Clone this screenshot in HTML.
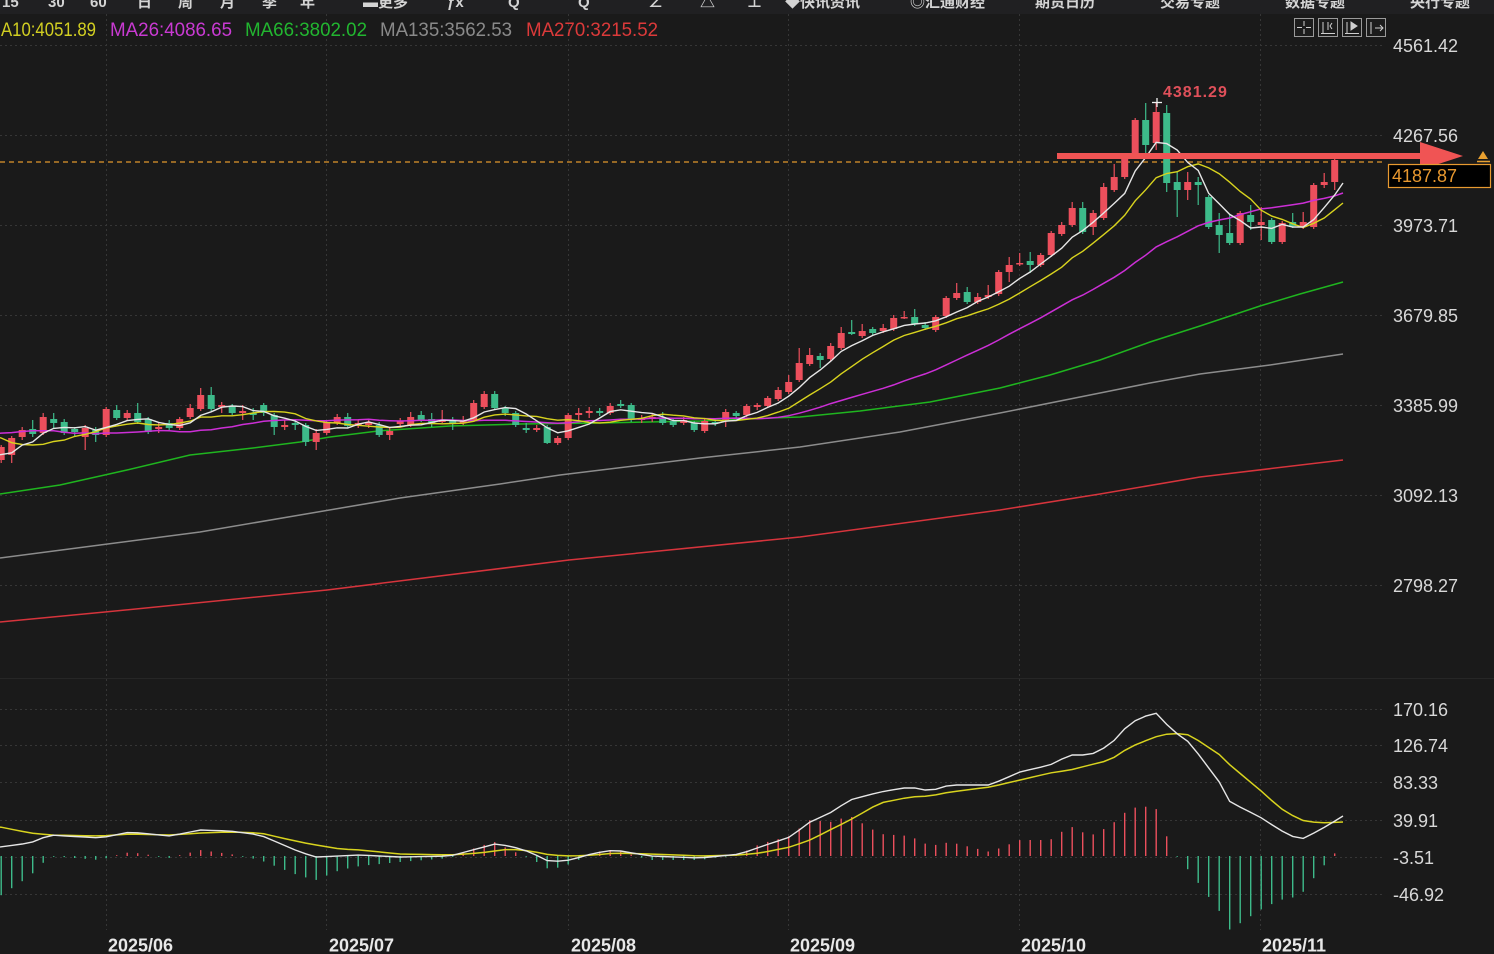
<!DOCTYPE html>
<html><head><meta charset="utf-8">
<style>
html,body{margin:0;padding:0;background:#1a1a1a;}
body{width:1494px;height:954px;overflow:hidden;position:relative;font-family:"Liberation Sans","Noto Sans CJK SC",sans-serif;}
svg{position:absolute;left:0;top:0;}
</style></head><body>
<svg id="c" width="1494" height="954" xmlns="http://www.w3.org/2000/svg">
<rect width="1494" height="954" fill="#1a1a1a"/>
<rect width="1494" height="14" fill="#202022"/>
<g font-family="Liberation Sans, Noto Sans CJK SC, sans-serif" font-size="15" fill="#d4d4d4" font-weight="bold">
<text x="2" y="7">15</text><text x="48" y="7">30</text><text x="90" y="7">60</text>
<text x="137" y="7">日</text><text x="178" y="7">周</text><text x="220" y="7">月</text><text x="262" y="7">季</text><text x="300" y="7">年</text>
<text x="363" y="7">▬更多</text><text x="447" y="7">ƒx</text><text x="508" y="7">Q</text><text x="578" y="7">Q</text>
<text x="648" y="7">∠</text><text x="700" y="7">△</text><text x="747" y="7">⊥</text>
<text x="785" y="7">◆快讯资讯</text><text x="910" y="7">◎汇通财经</text><text x="1035" y="7">期货日历</text>
<text x="1160" y="7">交易专题</text><text x="1285" y="7">数据专题</text><text x="1410" y="7">央行专题</text>
</g>
<g id="grid" stroke="#363636" stroke-width="1" stroke-dasharray="2,3" fill="none">
<line x1="0" y1="45.5" x2="1385" y2="45.5"/><line x1="0" y1="135.5" x2="1385" y2="135.5"/>
<line x1="0" y1="225.5" x2="1385" y2="225.5"/><line x1="0" y1="315.5" x2="1385" y2="315.5"/>
<line x1="0" y1="405.5" x2="1385" y2="405.5"/><line x1="0" y1="495.5" x2="1385" y2="495.5"/>
<line x1="0" y1="585.5" x2="1385" y2="585.5"/>
<line x1="0" y1="709.5" x2="1385" y2="709.5"/><line x1="0" y1="745.5" x2="1385" y2="745.5"/>
<line x1="0" y1="782.5" x2="1385" y2="782.5"/><line x1="0" y1="820.5" x2="1385" y2="820.5"/>
<line x1="0" y1="857.5" x2="1385" y2="857.5"/><line x1="0" y1="894.5" x2="1385" y2="894.5"/>
<line x1="106.5" y1="14" x2="106.5" y2="930"/><line x1="326.5" y1="14" x2="326.5" y2="930"/>
<line x1="568.5" y1="14" x2="568.5" y2="930"/><line x1="788.5" y1="14" x2="788.5" y2="930"/>
<line x1="1019.5" y1="14" x2="1019.5" y2="930"/><line x1="1260.5" y1="14" x2="1260.5" y2="930"/>
</g>
<line x1="0" y1="678.5" x2="1494" y2="678.5" stroke="#262626" stroke-width="1"/>
<g fill="none" stroke-width="1.5">
<polyline stroke="#d6343c" points="0,622 105,612 327,590 569,560 800,537 1000,510 1100,494 1200,477 1343,460"/>
<polyline stroke="#8c8c8c" points="0,558 100,545 200,532 300,515 400,498 500,484 560,475 700,458 800,447 900,432 1000,413 1100,393 1150,383 1200,374 1270,365 1343,354"/>
<polyline stroke="#1fb51f" points="0,494 60,485 127,470 190,455 253,448 300,442 330,437 378,431 450,426 520,424 600,423 700,421 770,418 800,417 860,411 930,402 1000,388 1050,375 1100,360 1150,342 1200,326 1260,306 1300,294 1343,282"/>
</g>
<line x1="0" y1="162" x2="1385" y2="162" stroke="#e0962c" stroke-width="1.2" stroke-dasharray="5,4"/>
<g id="candles"></g>
<g id="mas" fill="none"></g>
<g id="macd"></g>
<g stroke="#f0f0f0" stroke-width="1.3"><line x1="1152" y1="102.5" x2="1162" y2="102.5"/><line x1="1157" y1="98" x2="1157" y2="107"/></g>
<rect x="1057" y="153" width="366" height="6" fill="#f05454"/>
<polygon points="1420,142 1463,156 1420,170" fill="#f05454"/>
<text x="1163" y="97" font-size="16" font-weight="bold" fill="#e0505a" letter-spacing="1">4381.29</text>
<g font-size="19" font-family="Liberation Sans, sans-serif">
<text x="-13" y="36" fill="#d2cf22" textLength="109" lengthAdjust="spacingAndGlyphs">MA10:4051.89</text>
<text x="110" y="36" fill="#c93ad2" textLength="122" lengthAdjust="spacingAndGlyphs">MA26:4086.65</text>
<text x="245" y="36" fill="#22b630" textLength="122" lengthAdjust="spacingAndGlyphs">MA66:3802.02</text>
<text x="380" y="36" fill="#8a8a8a" textLength="132" lengthAdjust="spacingAndGlyphs">MA135:3562.53</text>
<text x="526" y="36" fill="#dc3a3a" textLength="132" lengthAdjust="spacingAndGlyphs">MA270:3215.52</text>
</g>
<g fill="#1c1c1c" stroke="#9a9a9a" stroke-width="1">
<rect x="1294.5" y="18.5" width="19" height="18"/><rect x="1318.5" y="18.5" width="19" height="18"/>
<rect x="1342.5" y="18.5" width="19" height="18"/><rect x="1366.5" y="18.5" width="19" height="18"/>
</g>
<g stroke="#cfcfcf" stroke-width="1" fill="none">
<line x1="1304" y1="21" x2="1304" y2="26"/><line x1="1304" y1="29" x2="1304" y2="34"/><line x1="1297" y1="27.5" x2="1302" y2="27.5"/><line x1="1306" y1="27.5" x2="1311" y2="27.5"/>
<line x1="1323" y1="22" x2="1323" y2="33"/><line x1="1321" y1="33.5" x2="1335" y2="33.5"/><line x1="1328" y1="22" x2="1328" y2="30"/><polyline points="1332,23 1330,26 1332,29"/>
<line x1="1347" y1="22" x2="1347" y2="33"/><line x1="1345" y1="33.5" x2="1359" y2="33.5"/><polygon points="1351,22 1357,26 1351,30" fill="#cfcfcf"/>
<line x1="1371" y1="22" x2="1371" y2="34"/><line x1="1375" y1="28" x2="1383" y2="28"/><polyline points="1380,25 1383,28 1380,31"/>
</g>
<g font-size="18" fill="#d8d8d8" font-family="Liberation Sans, sans-serif">
<text x="1393" y="52">4561.42</text><text x="1393" y="142">4267.56</text>
<text x="1393" y="232">3973.71</text><text x="1393" y="322">3679.85</text>
<text x="1393" y="412">3385.99</text><text x="1393" y="502">3092.13</text>
<text x="1393" y="592">2798.27</text>
<text x="1393" y="716">170.16</text><text x="1393" y="752">126.74</text>
<text x="1393" y="789">83.33</text><text x="1393" y="827">39.91</text>
<text x="1393" y="864">-3.51</text><text x="1393" y="901">-46.92</text>
</g>
<rect x="1388.5" y="164.5" width="102" height="23" fill="#000" stroke="#e89a30" stroke-width="1.2"/>
<text x="1392" y="182" font-size="18" fill="#e8982f" font-family="Liberation Sans, sans-serif">4187.87</text>
<polygon points="1478,159 1483,151 1488,159" fill="#e8a030"/>
<line x1="1477" y1="161.5" x2="1490" y2="161.5" stroke="#e8a030" stroke-width="1.5"/>
<g font-size="18" font-weight="bold" fill="#e8e8e8" font-family="Liberation Sans, sans-serif">
<text x="108" y="951.5">2025/06</text><text x="329" y="951.5">2025/07</text>
<text x="571" y="951.5">2025/08</text><text x="790" y="951.5">2025/09</text>
<text x="1021" y="951.5">2025/10</text><text x="1262" y="951.5">2025/11</text>
</g>
</svg>
<script>
(function(){
var P0=4561.42,SC=3.2651;
function py(p){return 45+(P0-p)/SC;}
var pre=[3175,3237,3211,3230,3342,3327,3424,3381,3288,3349,3319,3343,3317,3289,3239,3241,3334,3431,3364,3307,3325,3235,3249,3178,3240,3204].map(py);
var D=[
['r',447,460,445,463],['r',438,455,436,463],['r',430,437,427,440],['g',429,434,420,437],['r',417,433,413,435],
['g',419,423,413,428],['g',422,433,419,435],['g',429,432,427,437],['r',428,437,425,450],['g',430,435,427,442],
['r',409,435,407,437],['g',410,418,405,420],['r',413,418,410,421],['g',413,422,403,424],['g',419,432,417,434],
['r',427,429,422,433],['g',423,428,420,430],['r',419,428,417,430],['r',408,417,404,419],['r',395,409,388,411],
['g',395,409,387,411],['r',405,407,402,413],['g',406,413,404,415],['r',411,413,405,420],['g',413,415,408,420],
['g',405,413,403,416],['g',415,427,413,435],['r',425,427,420,430],['g',423,425,419,430],['g',425,442,423,446],
['r',433,442,429,450],['r',422,433,420,435],['r',417,423,414,425],['g',417,426,413,428],['r',423,425,420,428],
['r',422,425,419,428],['g',425,435,422,437],['r',431,435,428,440],['r',421,424,418,427],['r',417,425,412,427],
['g',415,420,411,422],['g',419,423,413,427],['r',420,422,410,423],['g',421,423,417,430],['r',420,423,416,425],
['r',403,420,400,422],['r',394,407,391,409],['g',394,408,391,410],['g',408,413,406,416],['g',413,425,411,427],
['g',428,430,423,433],['r',428,430,425,432],['g',427,443,425,444],['r',438,443,436,445],['r',415,438,413,440],
['r',413,415,408,420],['r',411,413,407,418],['g',411,413,408,416],['r',406,413,403,415],['g',404,406,400,408],
['g',405,420,403,422],['r',418,420,415,423],['r',417,419,414,422],['g',418,423,412,425],['g',421,425,419,427],
['r',420,423,417,425],['g',423,430,421,432],['r',421,431,419,433],['g',422,423,419,426],['r',412,420,409,427],
['g',413,416,411,418],['r',406,415,404,417],['r',405,407,403,410],['r',398,406,396,408],['r',390,399,387,401],
['r',382,392,375,394],['r',363,380,348,382],['r',355,364,348,366],['g',356,360,353,368],['r',346,359,343,361],
['r',333,348,327,350],['g',332,334,320,335],['r',331,336,324,338],['g',329,333,327,335],['r',328,331,324,333],
['r',318,329,315,331],['r',317,318,311,319],['g',317,324,309,326],['g',325,328,322,330],['r',317,330,315,332],
['r',298,316,296,318],['r',293,298,283,300],['g',292,302,287,304],['r',297,302,293,304],['r',295,297,285,299],
['r',272,294,270,296],['r',265,272,257,282],['r',263,264,253,266],['g',261,265,252,273],['r',255,265,253,267],
['r',233,255,231,257],['r',225,234,222,236],['r',208,225,202,227],['g',208,232,202,234],['r',213,227,210,235],
['r',187,218,183,220],['r',177,190,164,192],['r',158,177,155,179],['r',120,157,118,159],['g',120,145,103,153],
['r',112,143,102,150],['g',113,183,105,192],['g',182,190,172,217],['r',182,190,172,200],['g',182,185,177,205],
['g',197,227,195,229],['g',225,235,213,253],['g',233,243,215,245],['r',213,243,211,245],['g',215,222,205,230],
['r',222,225,207,240],['g',220,242,218,244],['r',223,242,221,244],['g',222,226,213,228],['r',222,227,212,229],
['r',185,227,183,229],['r',182,185,173,188],['r',160,182,158,190]
];
function X(k){return 1.2+10.5*k;}
var RED="#ec4f5c",GRN="#3dbb8a";
var cg=document.getElementById("candles");
var html="";
for(var k=0;k<D.length;k++){
  var d=D[k],x=X(k),col=d[0]=='r'?RED:GRN;
  var h=Math.max(1.5,d[2]-d[1]);
  html+='<rect x="'+(x-0.6).toFixed(2)+'" y="'+d[3]+'" width="1.2" height="'+(d[4]-d[3])+'" fill="'+col+'"/>';
  html+='<rect x="'+(x-3.5).toFixed(2)+'" y="'+d[1]+'" width="7" height="'+h+'" fill="'+col+'"/>';
}
cg.innerHTML=html;
var closes=pre.concat(D.map(function(d){return d[0]=='r'?d[1]:d[2];}));
var NP=pre.length;
function ma(n,color,w,endY){
  var pts=[];
  for(var k=-1;k<D.length;k++){
    var i=NP+k; if(i-n+1<0) continue;
    var s=0; for(var j=i-n+1;j<=i;j++) s+=closes[j];
    pts.push(X(k).toFixed(1)+','+(s/n).toFixed(1));
  }
  pts.push('1343,'+endY);
  return '<polyline points="'+pts.join(' ')+'" fill="none" stroke="'+color+'" stroke-width="'+w+'"/>';
}
document.getElementById("mas").innerHTML=ma(26,"#cc2fd6",1.5,193)+ma(10,"#d8d31e",1.4,203)+ma(5,"#e6e6e6",1.4,183);
var K=[[-10,848,826],[0,847,827],[30,843,833],[50,835,835],[100,838,836],[130,832,834],[170,836,835],[200,830,833],[230,831,832],[260,835,833],[300,852,842],[316,857,845],[340,856,849],[360,855,850],[400,857,854],[450,856,855],[480,848,853],[495,844,851],[510,846,849],[530,852,851],[550,862,855],[570,860,856],[595,853,855],[615,850,853],[650,856,854],[700,858,856],[740,854,855],[760,847,853],[790,837,847],[810,822,840],[830,813,830],[850,800,820],[880,792,803],[910,787,797],[930,791,796],[950,785,792],[990,785,787],[1020,772,780],[1050,765,773],[1070,755,770],[1090,755,765],[1110,745,760],[1130,723,747],[1155,712,737],[1172,730,733],[1190,743,735],[1220,783,755],[1230,802,765],[1260,817,790],[1280,830,808],[1300,840,820],[1320,830,823],[1343,816,822]];
function ip(x,idx){
  if(x<=K[0][0]) return K[0][idx];
  for(var i=0;i<K.length-1;i++){
    if(x>=K[i][0]&&x<=K[i+1][0]){var t=(x-K[i][0])/(K[i+1][0]-K[i][0]);return K[i][idx]+(K[i+1][idx]-K[i][idx])*t;}
  }
  return K[K.length-1][idx];
}
var Y0=856,mh="",dif=[],dea=[];
for(var k=-1;k<D.length;k++){
  var x=X(k),a=ip(x,1),b=ip(x,2);
  dif.push(x.toFixed(1)+','+a.toFixed(1));dea.push(x.toFixed(1)+','+b.toFixed(1));
  if(k>=0){
    var h=2*(b-a);
    if(Math.abs(h)<0.8) h=h<0?-0.8:0.8;
    var col=h>0?RED:GRN;
    var y1=h>0?Y0-h:Y0, hh=Math.abs(h);
    mh+='<rect x="'+(x-0.7).toFixed(2)+'" y="'+y1.toFixed(1)+'" width="1.4" height="'+hh.toFixed(1)+'" fill="'+col+'"/>';
  }
}
dif.push('1343,816');dea.push('1343,822');
mh+='<polyline points="'+dea.join(' ')+'" fill="none" stroke="#d8d31e" stroke-width="1.5"/>';
mh+='<polyline points="'+dif.join(' ')+'" fill="none" stroke="#e6e6e6" stroke-width="1.4"/>';
document.getElementById("macd").innerHTML=mh;
})();
</script>
</body></html>
